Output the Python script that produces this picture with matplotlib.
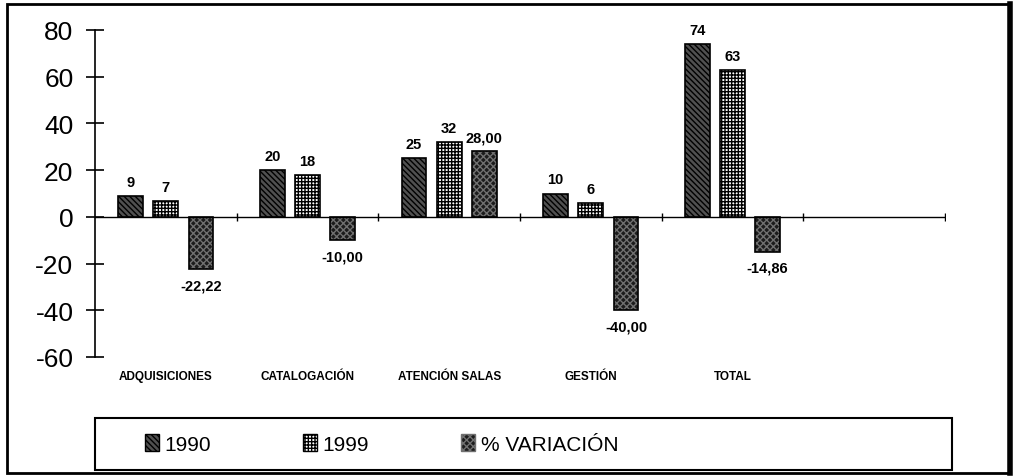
import matplotlib
matplotlib.use("Agg")
import matplotlib.pyplot as plt
from matplotlib.patches import Patch, Rectangle
from matplotlib.lines import Line2D
import numpy as np

# ---------------------------------------------------------------- data
categories = ["ADQUISICIONES", "CATALOGACIÓN", "ATENCIÓN SALAS", "GESTIÓN", "TOTAL"]
v1990      = [9, 20, 25, 10, 74]
v1999      = [7, 18, 32, 6, 63]
variacion  = [-22.22, -10.00, 28.00, -40.00, -14.86]
series_names = ["1990", "1999", "% VARIACIÓN"]
yticks = [-60, -40, -20, 0, 20, 40, 60, 80]
n_slots = 6   # the chart keeps an empty sixth slot on the right

NARROW = ["Liberation Sans Narrow", "Liberation Sans", "DejaVu Sans"]
ARIAL  = ["Liberation Sans", "DejaVu Sans"]

# hatch styles
C1990, H1990 = "#505050", "\\\\\\\\\\\\"
C1999, H1999 = "white", "+++++"
CVAR, HVAR, HVAR_COL = "#1c1c1c", "xxxxx", "#707070"

W, H = 1017, 477
fig = plt.figure(figsize=(W / 100, H / 100), dpi=100)
ax = fig.add_axes([95 / W, 1 - 358 / H, 850 / W, 327 / H])

x = np.arange(len(categories)) + 0.5
bw  = 0.176
off = 0.248

ax.bar(x - off, v1990, bw, facecolor=C1990, edgecolor="black",
       hatch=H1990, linewidth=1.2, zorder=3)
ax.bar(x, v1999, bw, facecolor=C1999, edgecolor="black",
       hatch=H1999, linewidth=1.2, zorder=3)
# dark bar with light dotted texture: hatch layer then black outline
ax.bar(x + off, variacion, bw, facecolor=CVAR, edgecolor=HVAR_COL,
       hatch=HVAR, linewidth=0, zorder=3)
ax.bar(x + off, variacion, bw, facecolor="none", edgecolor="black",
       linewidth=1.2, zorder=4)

# value labels
lab_kw = dict(ha="center", fontsize=10.5, fontweight="bold", family=NARROW)
for xi, v in zip(x - off, v1990):
    ax.text(xi, v + 3, f"{v}", va="bottom", **lab_kw)
for xi, v in zip(x, v1999):
    ax.text(xi, v + 3, f"{v}", va="bottom", **lab_kw)
for xi, v in zip(x + off, variacion):
    s = f"{v:.2f}".replace(".", ",")
    if v < 0:
        ax.text(xi, v - 4, s, va="top", **lab_kw)
    else:
        ax.text(xi, v + 3, s, va="bottom", **lab_kw)

# axes styling
ax.set_xlim(0, n_slots)
ax.set_ylim(-60, 80)
for sp in ["top", "right", "bottom"]:
    ax.spines[sp].set_visible(False)
ax.spines["left"].set_linewidth(1.2)
ax.set_yticks(yticks)
ax.set_yticklabels([str(t) for t in yticks], family=ARIAL, fontsize=19)
ax.tick_params(axis="y", direction="inout", length=13, width=1.2, pad=9)
ax.set_xticks([])

# zero line with category boundary ticks
ax.axhline(0, color="black", lw=1.0, zorder=5)
ax.plot(np.arange(1, n_slots + 1), np.zeros(n_slots), linestyle="none",
        marker="|", markersize=6, color="black", zorder=5)

# category labels under the plot area
for xi, c in zip(x, categories):
    ax.text(xi, -65.5, c, ha="center", va="top", fontsize=8.5,
            fontweight="bold", family=NARROW)

# legend inside its own box
handles = [
    Patch(facecolor=C1990, edgecolor="black", hatch=H1990),
    Patch(facecolor=C1999, edgecolor="black", hatch=H1999),
    Patch(facecolor=CVAR, edgecolor=HVAR_COL, hatch=HVAR),
]
fig.legend(handles, series_names, loc="center left", ncol=3,
           bbox_to_anchor=(126 / W, 1 - 445 / H), frameon=False,
           prop=dict(family=NARROW, size=15), handlelength=0.7,
           handleheight=0.9, handletextpad=0.25, columnspacing=4.4)
fig.patches.append(Rectangle((95 / W, 1 - 471 / H), 857 / W, 52 / H,
                             transform=fig.transFigure, fill=False,
                             edgecolor="black", linewidth=1.5))

# outer frame, heavier on the right like the scan
fig.patches.append(Rectangle((7 / W, 1 - 474 / H), 1003 / W, 469 / H,
                             transform=fig.transFigure, fill=False,
                             edgecolor="black", linewidth=2.0))
fig.lines.append(Line2D([1010 / W, 1010 / W], [1 - 474 / H, 1 - 5 / H],
                        transform=fig.transFigure, color="black", linewidth=4))

fig.savefig("out.png", dpi=100, facecolor="white")
